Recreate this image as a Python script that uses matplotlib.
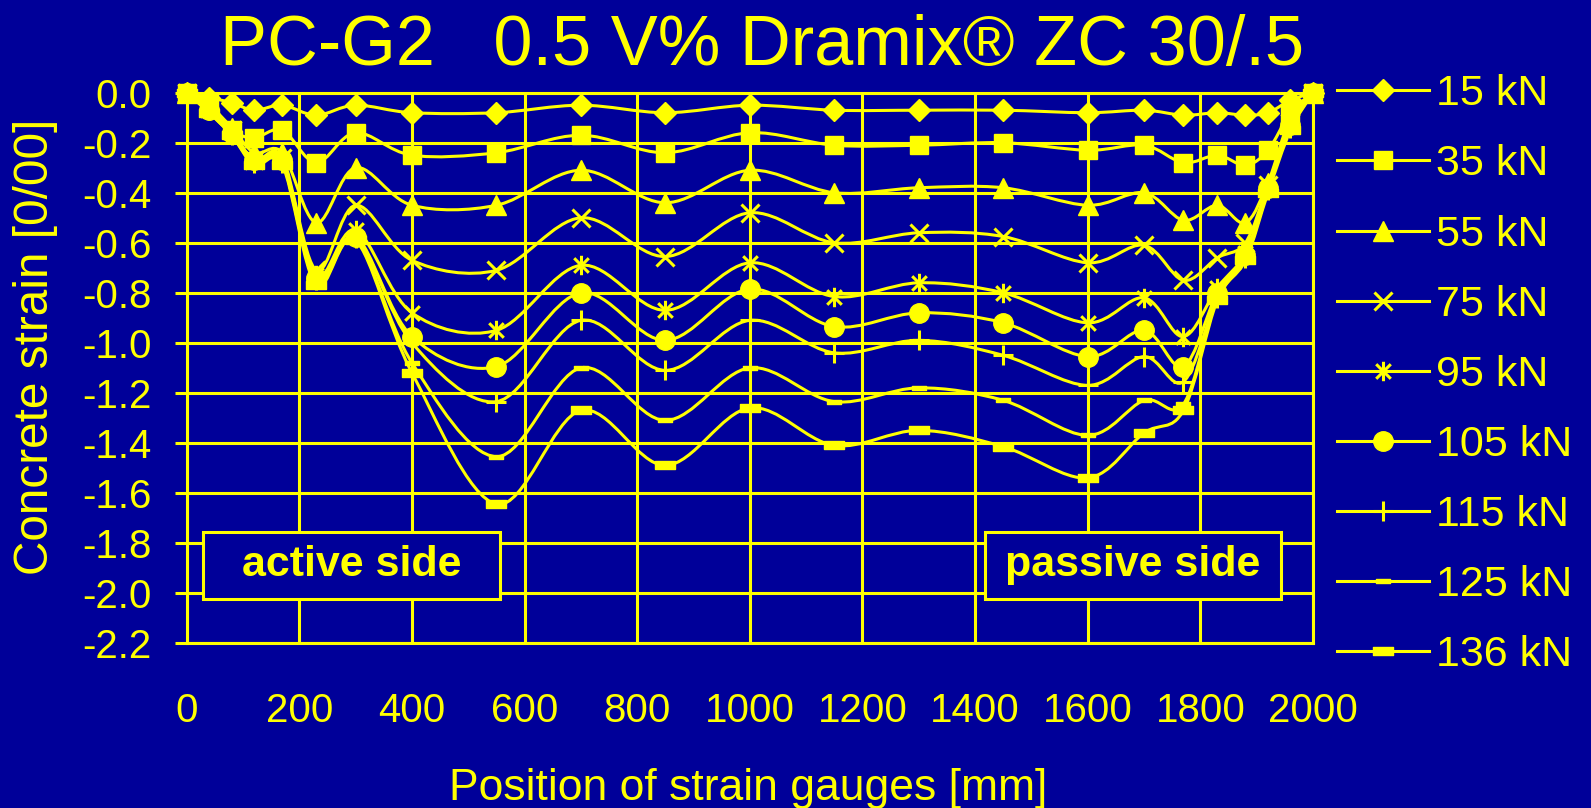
import numpy as np
import matplotlib
matplotlib.use('Agg')
import matplotlib.pyplot as plt
from matplotlib.path import Path
from matplotlib.patches import PathPatch, Rectangle
from matplotlib.lines import Line2D

plt.rcParams['font.family'] = ['Liberation Sans', 'DejaVu Sans']

BG = '#000099'
FG = '#ffff00'

# gauge positions [mm]
positions = [0, 40, 80, 120, 170, 230, 300, 400, 550, 700, 850, 1000, 1150,
             1300, 1450, 1600, 1700, 1770, 1830, 1880, 1920, 1960, 2000]

# concrete strain [0/00] per load step
s15 = [0, -0.02, -0.04, -0.07, -0.05, -0.09, -0.05, -0.08, -0.08, -0.05, -0.08, -0.05,
       -0.07, -0.07, -0.07, -0.08, -0.07, -0.09, -0.08, -0.09, -0.08, -0.03, 0]
s35 = [0, -0.04, -0.15, -0.18, -0.15, -0.28, -0.16, -0.25, -0.24, -0.17, -0.24, -0.16,
       -0.21, -0.21, -0.20, -0.23, -0.21, -0.28, -0.25, -0.29, -0.23, -0.08, 0]
s55 = [0, -0.05, -0.14, -0.24, -0.24, -0.52, -0.30, -0.45, -0.45, -0.31, -0.44, -0.31,
       -0.40, -0.38, -0.38, -0.45, -0.40, -0.51, -0.45, -0.52, -0.36, -0.10, 0]
s75 = [0, -0.06, -0.15, -0.27, -0.26, -0.71, -0.45, -0.67, -0.71, -0.50, -0.655, -0.48,
       -0.60, -0.56, -0.575, -0.68, -0.61, -0.75, -0.66, -0.60, -0.37, -0.12, 0]
s95 = [0, -0.07, -0.16, -0.27, -0.27, -0.73, -0.55, -0.88, -0.95, -0.69, -0.87, -0.68,
       -0.815, -0.76, -0.80, -0.92, -0.82, -0.975, -0.78, -0.64, -0.38, -0.13, 0]
s105 = [0, -0.07, -0.16, -0.27, -0.27, -0.74, -0.575, -0.975, -1.095, -0.80, -0.99, -0.785,
        -0.935, -0.88, -0.92, -1.055, -0.95, -1.095, -0.80, -0.65, -0.38, -0.13, 0]
s115 = [0, -0.07, -0.17, -0.28, -0.28, -0.75, -0.58, -1.00, -1.235, -0.91, -1.11, -0.91,
        -1.04, -0.99, -1.05, -1.17, -1.055, -1.155, -0.82, -0.66, -0.39, -0.14, 0]
s125 = [0, -0.08, -0.17, -0.28, -0.28, -0.76, -0.585, -1.08, -1.455, -1.10, -1.31, -1.10,
        -1.235, -1.18, -1.23, -1.37, -1.23, -1.245, -0.82, -0.66, -0.39, -0.14, 0]
s136 = [0, -0.08, -0.17, -0.29, -0.29, -0.77, -0.59, -1.12, -1.645, -1.27, -1.49, -1.26,
        -1.41, -1.35, -1.415, -1.54, -1.36, -1.27, -0.83, -0.67, -0.40, -0.15, 0]

labels = ['15 kN', '35 kN', '55 kN', '75 kN', '95 kN', '105 kN', '115 kN', '125 kN', '136 kN']
series = [s15, s35, s55, s75, s95, s105, s115, s125, s136]

x_ticks = [0, 200, 400, 600, 800, 1000, 1200, 1400, 1600, 1800, 2000]
y_ticks = [0.0, -0.2, -0.4, -0.6, -0.8, -1.0, -1.2, -1.4, -1.6, -1.8, -2.0, -2.2]

# marker shapes
asterisk = Path([(0, -1), (0, 1), (-0.75, -0.75), (0.75, 0.75), (-0.75, 0.75), (0.75, -0.75)],
                [Path.MOVETO, Path.LINETO] * 3)
dash = Path([(-1, -0.35), (1, -0.35), (1, 0.35), (-1, 0.35), (-1, -0.35)],
            [Path.MOVETO, Path.LINETO, Path.LINETO, Path.LINETO, Path.CLOSEPOLY])
styles = [('D', 11, 1), ('s', 13, 1), ('^', 15, 1), ('x', 13, 2.2), (asterisk, 14, 2.2),
          ('o', 14, 1), ('+', 15, 2.2), (dash, 10, 1), (dash, 15, 1)]


def smooth_path(x, y):
    # smoothed line like the spreadsheet's "smoothed line" option (Catmull-Rom bezier)
    p = np.column_stack([x, y]).astype(float)
    n = len(p)
    verts = [p[0]]
    for i in range(n - 1):
        p0 = p[max(i - 1, 0)]
        p1, p2 = p[i], p[i + 1]
        p3 = p[min(i + 2, n - 1)]
        verts += [p1 + (p2 - p0) / 6, p2 - (p3 - p1) / 6, p2]
    codes = [Path.MOVETO] + [Path.CURVE4] * (3 * (n - 1))
    return Path(verts, codes)


fig = plt.figure(figsize=(15.91, 8.08), dpi=100, facecolor=BG)
ax = fig.add_axes([0.11735, 0.20421, 0.70792, 0.68106], facecolor=BG)

ax.set_xlim(0, 2000)
ax.set_ylim(-2.2, 0)
ax.set_xticks(x_ticks)
ax.set_xticklabels([str(v) for v in x_ticks])
ax.set_yticks(y_ticks)
ax.set_yticklabels(['%.1f' % abs(v) if v == 0 else '%.1f' % v for v in y_ticks])
ax.grid(True, color=FG, lw=2.2)
ax.set_axisbelow(True)
for sp in ax.spines.values():
    sp.set_color(FG)
    sp.set_linewidth(2.2)
ax.tick_params(axis='x', length=0, pad=35, labelsize=29, labelcolor=FG)
ax.tick_params(axis='y', length=9, width=2.2, color=FG, pad=16, labelsize=29, labelcolor=FG)

handles = []
for vals, lab, (mk, ms, mew) in zip(series, labels, styles):
    ax.add_patch(PathPatch(smooth_path(positions, vals), fill=False, edgecolor=FG,
                           lw=2.2, clip_on=False, zorder=3))
    ax.plot(positions, vals, ls='none', marker=mk, ms=ms, mew=mew, color=FG,
            mfc=FG, mec=FG, clip_on=False, zorder=4)
    handles.append(Line2D([], [], color=FG, lw=2.2, marker=mk, ms=ms, mew=mew,
                          mfc=FG, mec=FG, label=lab))

# side boxes
for x0, x1, txt in [(29.5, 557, 'active side'), (1417, 1944, 'passive side')]:
    ax.add_patch(Rectangle((x0, -2.024), x1 - x0, 0.269, facecolor=BG, edgecolor=FG,
                           lw=2.2, zorder=5))
    ax.text((x0 + x1) / 2, -1.889, txt, ha='center', va='center', fontsize=31,
            fontweight='bold', color=FG, zorder=6)

fig.legend(handles=handles, loc='upper left', bbox_to_anchor=(0.8404, 0.908),
           frameon=False, fontsize=31, labelcolor=FG, handlelength=2.14,
           handletextpad=0.16, labelspacing=0.70, borderpad=0, borderaxespad=0)

fig.text(0.479, 0.920, 'PC-G2   0.5 V% Dramix\u00ae ZC 30/.5', ha='center', va='baseline',
         fontsize=50.7, color=FG)
fig.text(0.470, 0.0105, 'Position of strain gauges [mm]', ha='center', va='baseline',
         fontsize=32, color=FG)
fig.text(0.0223, 0.571, 'Concrete strain [0/00]', ha='center', va='center', rotation=90,
         fontsize=34.4, color=FG)

fig.savefig('out.png', dpi=100, facecolor=BG)
